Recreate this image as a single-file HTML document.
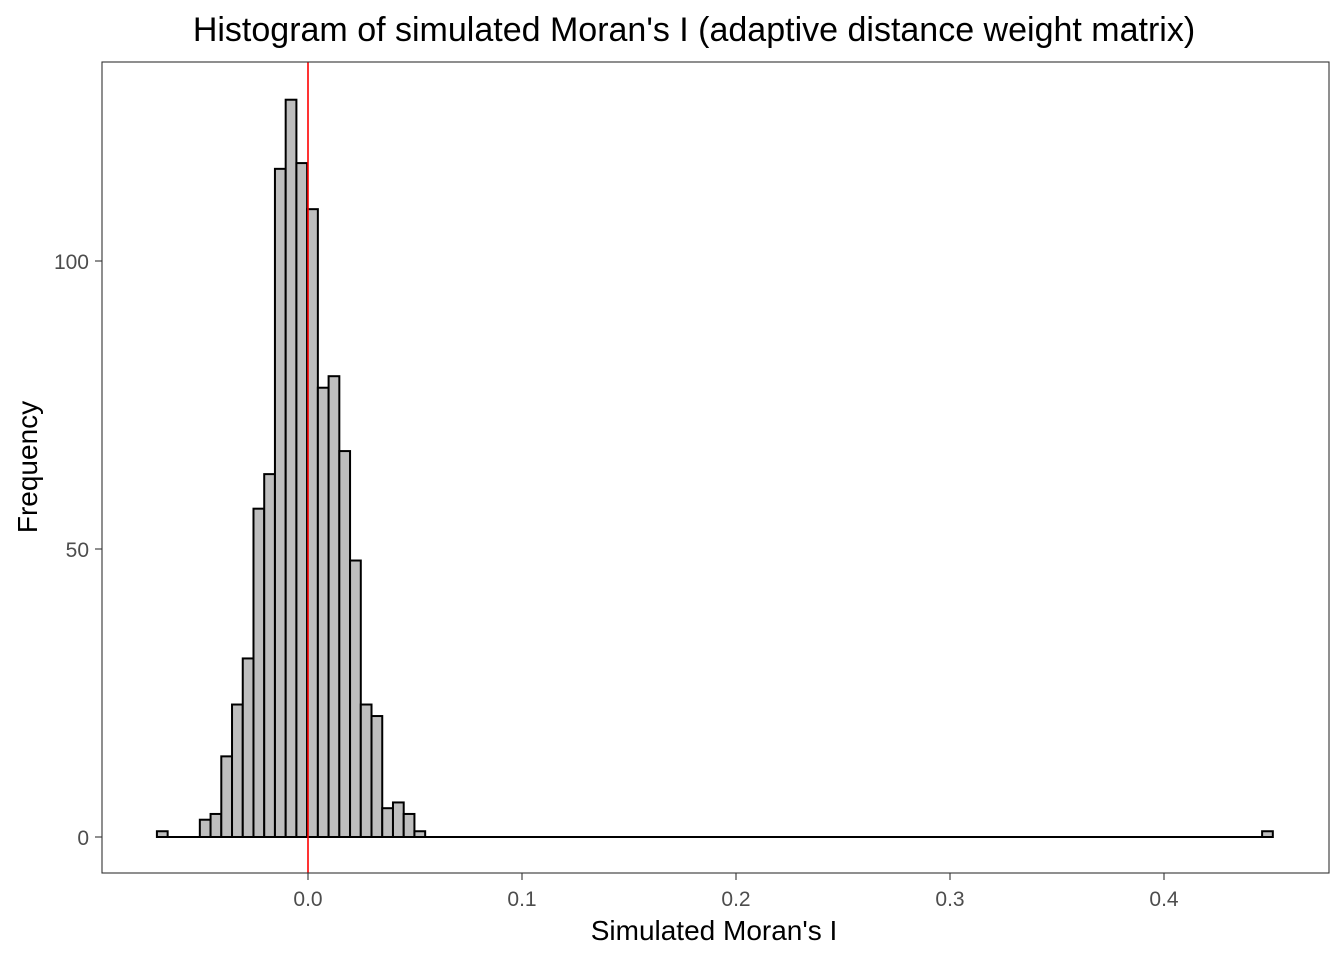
<!DOCTYPE html>
<html><head><meta charset="utf-8"><style>
body{margin:0;background:#fff;}
svg{display:block;font-family:"Liberation Sans",Arial,sans-serif;}
</style></head><body>
<svg id="chart" width="1344" height="960">
<text x="694" y="41" text-anchor="middle" font-size="34" fill="#000">Histogram of simulated Moran's I (adaptive distance weight matrix)</text>
<g id="bars"></g>
<rect x="102" y="62" width="1227" height="811" fill="none" stroke="#333" stroke-width="1.1"/>
<g id="axes"></g>
<text x="714" y="940" text-anchor="middle" font-size="28" fill="#000">Simulated Moran's I</text>
<text transform="translate(37,467) rotate(-90)" text-anchor="middle" font-size="28" fill="#000">Frequency</text>
</svg>
<script>
const binStart = -0.0706;
const binWidth = 0.005014;
const counts = [1,0,0,0,3,4,14,23,31,57,63,116,128,117,109,78,80,67,48,23,21,5,6,4,1];
const outlierBin = 103;
const outlierCount = 1;
const xTicks = [0,0.1,0.2,0.3,0.4];
const xTickLabels = ["0.0","0.1","0.2","0.3","0.4"];
const yTicks = [0,50,100];
const refLine = 0;

const NS="http://www.w3.org/2000/svg";
const X=v=>308+v*2140;
const Y=v=>837-v*5.76;
const bars=document.getElementById('bars');
const axes=document.getElementById('axes');
function mk(tag,attrs,parent){const e=document.createElementNS(NS,tag);for(const k in attrs)e.setAttribute(k,attrs[k]);parent.appendChild(e);return e;}
const all=[];
for(let i=0;i<=outlierBin;i++){all.push(i<counts.length?counts[i]:0);}
all[outlierBin]+=outlierCount;
const base=mk('line',{x1:X(binStart),x2:X(binStart+all.length*binWidth),y1:Y(0),y2:Y(0),stroke:'#000','stroke-width':2},bars);


all.forEach((c,i)=>{
  if(c<=0)return;
  const x0=X(binStart+i*binWidth),x1=X(binStart+(i+1)*binWidth);
  const r=mk('rect',{x:x0,y:Y(c),width:x1-x0,height:Y(0)-Y(c),fill:'#bebebe',stroke:'#000','stroke-width':2},bars);
  
  
});
const rl=mk('line',{x1:X(refLine),x2:X(refLine),y1:62,y2:873,stroke:'#ff0000','stroke-width':1.6},bars);


xTicks.forEach((t,i)=>{
  const l=mk('line',{x1:X(t),x2:X(t),y1:873,y2:880,stroke:'#333','stroke-width':1.1},axes);
  
  
  const tx=mk('text',{x:X(t),y:906,'text-anchor':'middle','font-size':21,fill:'#4d4d4d'},axes);
  tx.textContent=xTickLabels[i];
  
  
});
yTicks.forEach(t=>{
  const l=mk('line',{x1:95,x2:102,y1:Y(t),y2:Y(t),stroke:'#333','stroke-width':1.1},axes);
  
  
  const tx=mk('text',{x:89,y:Y(t)+8,'text-anchor':'end','font-size':21,fill:'#4d4d4d'},axes);
  tx.textContent=t;
  
  
});
</script>
</body></html>
